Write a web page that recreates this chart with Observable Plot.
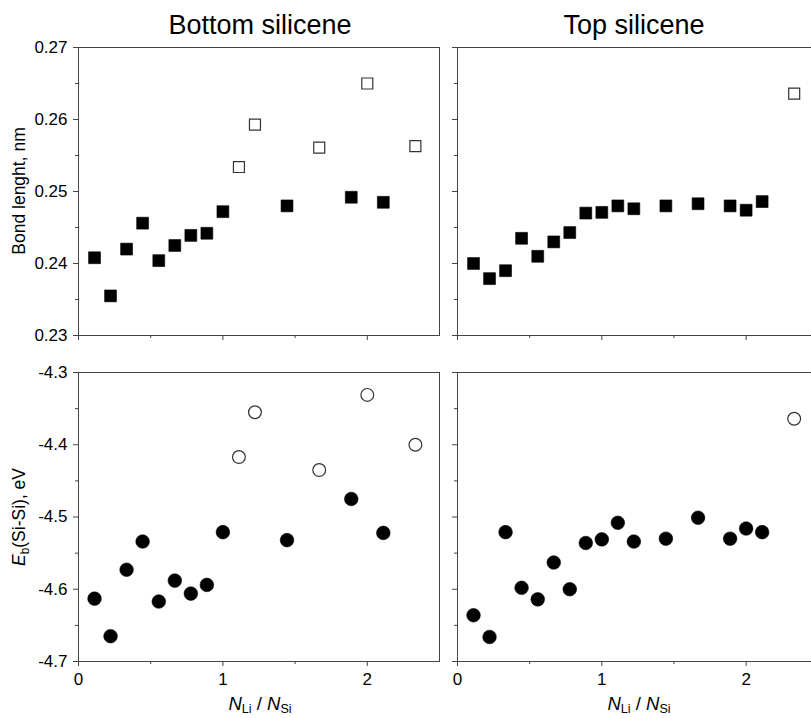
<!DOCTYPE html>
<html>
<head>
<meta charset="utf-8">
<script src="https://cdn.jsdelivr.net/npm/d3@7"></script>
<script src="https://cdn.jsdelivr.net/npm/@observablehq/plot@0.6"></script>
<style>
  html, body { margin: 0; padding: 0; background: #fff; overflow: hidden; }
  #c { position: relative; width: 811px; height: 718px; font-family: "Liberation Sans", Arial, sans-serif; color: #000; overflow: hidden; }
  .p { position: absolute; }
  .title { position: absolute; font-size: 27px; line-height: 1; white-space: nowrap; transform: translateX(-50%); }
  .ylab { position: absolute; font-size: 17.5px; line-height: 1; white-space: nowrap; transform: translate(-50%, -50%) rotate(-90deg); }
  .xlab { position: absolute; font-size: 18.5px; line-height: 1; white-space: nowrap; transform: translateX(-50%); }
  sub { font-size: 0.68em; vertical-align: -0.3em; line-height: 0; }
  .xlab sub { vertical-align: -0.2em; }
</style>
</head>
<body>
<div id="c">
  <div class="title" style="left:260px; top:12px;">Bottom silicene</div>
  <div class="title" style="left:634px; top:12px;">Top silicene</div>
  <div class="ylab" style="left:20px; top:191px;">Bond lenght, nm</div>
  <div class="ylab" style="left:20px; top:517px;"><i>E</i><sub>b</sub>(Si-Si), eV</div>
  <div class="xlab" style="left:260px; top:695px;"><i>N</i><sub>Li</sub> / <i>N</i><sub>Si</sub></div>
  <div class="xlab" style="left:639px; top:695px;"><i>N</i><sub>Li</sub> / <i>N</i><sub>Si</sub></div>
</div>
<script>
// ---- Data: bottom silicene ----
const bottomX = [0.111, 0.222, 0.333, 0.444, 0.556, 0.667, 0.778, 0.889, 1.0, 1.444, 1.889, 2.111];
const bottomBond = [0.2408, 0.2355, 0.2420, 0.2456, 0.2404, 0.2425, 0.2439, 0.2442, 0.2472, 0.2480, 0.2492, 0.2485];
const bottomEb = [-4.613, -4.665, -4.573, -4.534, -4.617, -4.588, -4.606, -4.594, -4.521, -4.532, -4.475, -4.522];
const bottomOpenX = [1.111, 1.222, 1.667, 2.0, 2.333];
const bottomOpenBond = [0.2534, 0.2593, 0.2561, 0.2650, 0.2563];
const bottomOpenEb = [-4.417, -4.355, -4.435, -4.331, -4.400];

// ---- Data: top silicene ----
const topX = [0.111, 0.222, 0.333, 0.444, 0.556, 0.667, 0.778, 0.889, 1.0, 1.111, 1.222, 1.444, 1.667, 1.889, 2.0, 2.111];
const topBond = [0.2400, 0.2379, 0.2390, 0.2435, 0.2410, 0.2430, 0.2443, 0.2470, 0.2471, 0.2480, 0.2476, 0.2480, 0.2483, 0.2480, 0.2474, 0.2486];
const topEb = [-4.636, -4.666, -4.521, -4.598, -4.614, -4.563, -4.600, -4.536, -4.531, -4.508, -4.534, -4.530, -4.501, -4.530, -4.516, -4.521];
const topOpenX = [2.333];
const topOpenBond = [0.2636];
const topOpenEb = [-4.364];

// ---- Ticks ----
const bondTicks = [0.23, 0.24, 0.25, 0.26, 0.27];
const bondMinor = [0.235, 0.245, 0.255, 0.265];
const ebTicks = [-4.7, -4.6, -4.5, -4.4, -4.3];
const ebMinor = [-4.65, -4.55, -4.45, -4.35];
const xTicks = [0, 1, 2];
const xMinor = [0.5, 1.5];

const pts = (xs, ys) => xs.map((x, i) => ({x, y: ys[i]}));

const FRAME = "#444";

function panel(o) {
  const marks = [];
  if (o.fullFrame) {
    marks.push(Plot.frame({stroke: FRAME, strokeWidth: 1}));
  } else {
    marks.push(Plot.ruleY([o.yDomain[0], o.yDomain[1]], {stroke: FRAME, strokeWidth: 1}));
    marks.push(Plot.ruleX([o.xDomain[0]], {stroke: FRAME, strokeWidth: 1}));
  }
  marks.push(Plot.axisY(o.yTicks, {anchor: "left", tickSize: 5, tickPadding: 6, stroke: FRAME,
    fill: o.yLabels ? "#000" : "none", tickFormat: o.yFmt, label: null}));
  marks.push(Plot.axisY(o.yMinor, {anchor: "left", tickSize: 3, stroke: FRAME, fill: "none", label: null}));
  marks.push(Plot.axisX(xTicks, {anchor: "bottom", tickSize: 5, tickPadding: 6, stroke: FRAME,
    fill: o.xLabels ? "#000" : "none", tickFormat: d => String(d), label: null}));
  marks.push(Plot.axisX(xMinor, {anchor: "bottom", tickSize: 3, stroke: FRAME, fill: "none", label: null}));
  marks.push(Plot.dot(o.filled, {x: "x", y: "y", symbol: o.symbol, r: o.rFill, fill: "#000", stroke: "#000", strokeWidth: 0.6}));
  marks.push(Plot.dot(o.open, {x: "x", y: "y", symbol: o.symbol, r: o.rOpen, fill: "#fff", stroke: "#333", strokeWidth: 1.2}));
  const svg = Plot.plot({
    width: o.width, height: o.height,
    marginLeft: o.ml, marginRight: o.mr, marginTop: o.mt, marginBottom: o.mb,
    x: {domain: o.xDomain},
    y: {domain: o.yDomain},
    style: {fontFamily: '"Liberation Sans", Arial, sans-serif', fontSize: "17px", color: "#000", background: "transparent", overflow: "visible"},
    marks
  });
  svg.classList.add("p");
  svg.style.left = o.left + "px";
  svg.style.top = o.top + "px";
  document.getElementById("c").appendChild(svg);
}

const bondFmt = d => d.toFixed(2);
const ebFmt = d => d.toFixed(1);

// Top-left
panel({left: 0, top: 0, width: 450, height: 345, ml: 78, mr: 11, mt: 47, mb: 10,
  xDomain: [0, 2.5], yDomain: [0.23, 0.27], yTicks: bondTicks, yMinor: bondMinor, yFmt: bondFmt,
  yLabels: true, xLabels: false, fullFrame: true, symbol: "square", rFill: 6.7, rOpen: 6.2,
  filled: pts(bottomX, bottomBond), open: pts(bottomOpenX, bottomOpenBond)});
// Top-right
panel({left: 440, top: 0, width: 371, height: 345, ml: 17, mr: 0, mt: 47, mb: 10,
  xDomain: [0, 2.453], yDomain: [0.23, 0.27], yTicks: bondTicks, yMinor: bondMinor, yFmt: bondFmt,
  yLabels: false, xLabels: false, fullFrame: false, symbol: "square", rFill: 6.7, rOpen: 6.2,
  filled: pts(topX, topBond), open: pts(topOpenX, topOpenBond)});
// Bottom-left
panel({left: 0, top: 350, width: 450, height: 350, ml: 78, mr: 11, mt: 22, mb: 39,
  xDomain: [0, 2.5], yDomain: [-4.7, -4.3], yTicks: ebTicks, yMinor: ebMinor, yFmt: ebFmt,
  yLabels: true, xLabels: true, fullFrame: true, symbol: "circle", rFill: 6.8, rOpen: 6.4,
  filled: pts(bottomX, bottomEb), open: pts(bottomOpenX, bottomOpenEb)});
// Bottom-right
panel({left: 440, top: 350, width: 371, height: 350, ml: 17, mr: 0, mt: 22, mb: 39,
  xDomain: [0, 2.453], yDomain: [-4.7, -4.3], yTicks: ebTicks, yMinor: ebMinor, yFmt: ebFmt,
  yLabels: false, xLabels: true, fullFrame: false, symbol: "circle", rFill: 6.8, rOpen: 6.4,
  filled: pts(topX, topEb), open: pts(topOpenX, topOpenEb)});
</script>
</body>
</html>
